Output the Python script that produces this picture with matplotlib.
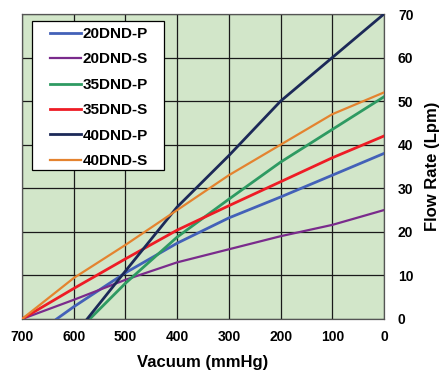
import numpy as np
import matplotlib.pyplot as plt
from matplotlib.patches import Rectangle

plt.rcParams['font.family'] = ['Liberation Sans', 'DejaVu Sans']

# vacuum (mmHg) and flow (Lpm)
vac_20p = [633, 600, 500, 400, 300, 200, 100, 0]
flow_20p = [0, 2.8, 10.6, 17.4, 23.2, 28, 33, 38]

vac_20s = [700, 600, 500, 400, 300, 200, 100, 0]
flow_20s = [0, 4.4, 9, 13, 16, 19, 21.6, 25]

vac_35p = [569, 500, 400, 300, 200, 100, 0]
flow_35p = [0, 8.2, 18.8, 27.5, 36, 43.5, 51]

vac_35s = [700, 600, 500, 400, 300, 200, 100, 0]
flow_35s = [0, 7, 13.8, 20.4, 26, 31.5, 37, 42]

vac_40p = [574, 500, 400, 300, 200, 100, 0]
flow_40p = [0, 11, 25.7, 37.5, 50, 60, 70]

vac_40s = [700, 600, 500, 400, 300, 200, 100, 0]
flow_40s = [0, 9.4, 17, 25, 33, 40, 47, 52]

series = [
    ('20DND-P', vac_20p, flow_20p, '#4361B8', 2.0),
    ('20DND-S', vac_20s, flow_20s, '#7A2B8C', 1.6),
    ('35DND-P', vac_35p, flow_35p, '#2E9A62', 2.0),
    ('35DND-S', vac_35s, flow_35s, '#EE1C25', 2.0),
    ('40DND-P', vac_40p, flow_40p, '#1C2958', 2.0),
    ('40DND-S', vac_40s, flow_40s, '#E4832F', 1.6),
]

x_ticks = [700, 600, 500, 400, 300, 200, 100, 0]
y_ticks = [0, 10, 20, 30, 40, 50, 60, 70]

fig = plt.figure(figsize=(4.44, 3.75), dpi=100)
ax = fig.add_axes([22/444, 1 - 319/375, 362/444, 305/375])
ax.set_facecolor('#D2E6C9')

for name, vx, fy, col, lw in series:
    ax.plot(vx, fy, color=col, lw=lw, label=name, zorder=3)

ax.set_xlim(700, 0)
ax.set_ylim(0, 70)
ax.set_xticks(x_ticks)
ax.set_yticks(y_ticks)
ax.grid(True, color='#1a1a1a', lw=0.9)
ax.set_axisbelow(True)
for s in ax.spines.values():
    s.set_color('#555555')
    s.set_linewidth(0.9)

ax.yaxis.tick_right()
ax.yaxis.set_label_position('right')
ax.tick_params(length=0, labelsize=10)
ax.tick_params(axis='x', pad=8)
ax.tick_params(axis='y', pad=10)
for lab in ax.get_xticklabels() + ax.get_yticklabels():
    lab.set_fontweight('bold')

ax.set_xlabel('Vacuum (mmHg)', fontsize=12, fontweight='bold', labelpad=8)
ax.set_ylabel('Flow Rate (Lpm)', fontsize=12, fontweight='bold', labelpad=8)

# legend box drawn separately so the inner padding can match
box = Rectangle((10/362, 149/305), 132/362, 149/305, transform=ax.transAxes,
                facecolor='white', edgecolor='black', lw=0.9, zorder=4)
ax.add_patch(box)
leg = ax.legend(loc='upper left', bbox_to_anchor=(28/362, 292/305), borderaxespad=0,
                frameon=False, prop={'weight': 'bold', 'size': 11}, handlelength=2.0,
                handletextpad=0.15, labelspacing=0.75, borderpad=0)
leg.set_zorder(5)

fig.savefig('out.png', dpi=100)
